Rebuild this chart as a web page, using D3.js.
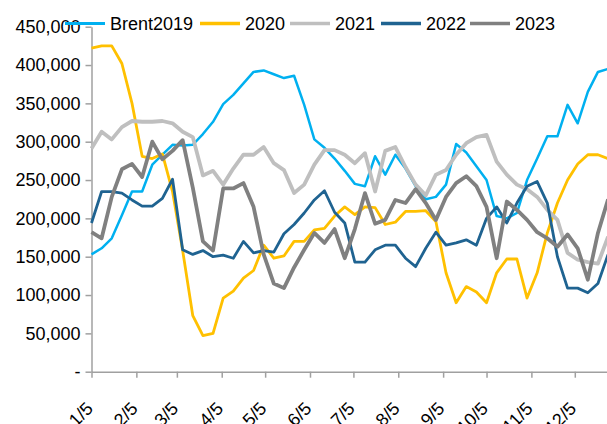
<!DOCTYPE html>
<html>
<head>
<meta charset="utf-8">
<script src="https://cdn.jsdelivr.net/npm/d3@7"></script>
<style>
  html, body { margin: 0; padding: 0; background: #fff; overflow: hidden; }
  svg { display: block; font-family: "Liberation Sans", Arial, sans-serif; }
</style>
</head>
<body>
<svg id="chart" width="607" height="424"></svg>
<script>
// ---- data ----
const weeks = ["2019-01-05","2019-01-12","2019-01-19","2019-01-26","2019-02-02","2019-02-09","2019-02-16","2019-02-23",
  "2019-03-02","2019-03-09","2019-03-16","2019-03-23","2019-03-30","2019-04-06","2019-04-13","2019-04-20","2019-04-27",
  "2019-05-04","2019-05-11","2019-05-18","2019-05-25","2019-06-01","2019-06-08","2019-06-15","2019-06-22","2019-06-29",
  "2019-07-06","2019-07-13","2019-07-20","2019-07-27","2019-08-03","2019-08-10","2019-08-17","2019-08-24","2019-08-31",
  "2019-09-07","2019-09-14","2019-09-21","2019-09-28","2019-10-05","2019-10-12","2019-10-19","2019-10-26",
  "2019-11-02","2019-11-09","2019-11-16","2019-11-23","2019-11-30","2019-12-07","2019-12-14","2019-12-21","2019-12-28"];
const monthTicks = ["2019-01-05","2019-02-05","2019-03-05","2019-04-05","2019-05-05","2019-06-05",
  "2019-07-05","2019-08-05","2019-09-05","2019-10-05","2019-11-05","2019-12-05"];
const tickLabels = ["1/5","2/5","3/5","4/5","5/5","6/5","7/5","8/5","9/5","10/5","11/5","12/5"];
const yTicks = [0,50000,100000,150000,200000,250000,300000,350000,400000,450000];
const seriesNames = ["Brent2019","2020","2021","2022","2023"];

const brent2019 = [153000,161000,174000,204000,235000,235000,270000,283000,296000,295000,296000,310000,326000,349000,361000,376000,391000,
  393000,388000,383000,386000,348000,303000,292000,278000,262000,245000,242000,281000,257000,283000,265000,242000,225000,228000,
  244000,297000,286000,268000,250000,203000,200000,207000,250000,278000,307000,307000,348000,324000,365000,391000,395000];
const y2020 = [422000,425000,425000,402000,350000,281000,278000,284000,235000,158000,73000,47000,50000,96000,105000,122000,132000,
  165000,148000,151000,170000,170000,185000,187000,203000,215000,205000,215000,214000,192000,195000,209000,209000,210000,196000,
  129000,90000,111000,104000,90000,129000,147000,147000,96000,129000,181000,220000,250000,271000,283000,283000,278000];
const y2021 = [291000,313000,303000,319000,327000,326000,326000,327000,324000,313000,306000,256000,262000,244000,265000,283000,283000,
  293000,272000,263000,233000,244000,270000,289000,289000,283000,272000,285000,235000,288000,293000,267000,244000,230000,257000,
  263000,283000,298000,306000,309000,274000,257000,244000,238000,228000,211000,198000,155000,146000,143000,141000,176000];
const y2022 = [194000,235000,235000,233000,224000,216000,216000,226000,251000,159000,153000,158000,150000,152000,148000,170000,155000,
  158000,156000,180000,192000,207000,224000,236000,208000,194000,143000,143000,159000,165000,165000,148000,137000,161000,182000,
  165000,168000,172000,165000,200000,215000,194000,220000,242000,248000,220000,150000,109000,109000,103000,115000,153000];
const y2023 = [182000,174000,228000,264000,271000,254000,300000,277000,288000,302000,240000,170000,158000,239000,239000,246000,215000,
  153000,115000,109000,136000,159000,181000,168000,186000,148000,186000,233000,193000,198000,224000,220000,238000,220000,198000,
  228000,246000,255000,242000,215000,148000,222000,211000,198000,182000,174000,163000,179000,161000,120000,181000,225000];

const seriesValues = [brent2019, y2020, y2021, y2022, y2023];
const colors = ["#00B0F0","#FFC000","#BFBFBF","#1F6391","#808080"];
const widths = [2.5, 2.8, 3.8, 2.8, 3.8];

// ---- chart ----
const parse = d3.timeParse("%Y-%m-%d");
const dates = weeks.map(parse);
const svg = d3.select("#chart");

const x = d3.scaleTime()
  .domain([parse("2019-01-05"), parse("2019-12-31")])
  .range([91.5, 91.5 + 360 * 1.447]);
const y = d3.scaleLinear().domain([0, 450000]).range([371.7, 26.7]);

const axisColor = "#A0A0A0";

// y axis
const yAxis = svg.append("g")
  .attr("transform", "translate(91.5,0)")
  .call(d3.axisLeft(y).tickValues(yTicks).tickSize(6).tickSizeOuter(0).tickPadding(5)
    .tickFormat(d => d === 0 ? "-" : d3.format(",")(d)));
yAxis.select(".domain").attr("stroke", axisColor).attr("stroke-width", 1.5);
yAxis.selectAll(".tick line").attr("stroke", axisColor).attr("stroke-width", 1.5);
yAxis.selectAll(".tick text").attr("fill", "#000").style("font-size", "18px")
  .style("font-family", "'Liberation Sans', Arial, sans-serif");

// x axis
const xAxis = svg.append("g")
  .attr("transform", "translate(0,371.7)")
  .call(d3.axisBottom(x).tickValues(monthTicks.map(parse)).tickSize(6).tickSizeOuter(0)
    .tickFormat((d, i) => tickLabels[i]));
xAxis.select(".domain").attr("stroke", axisColor).attr("stroke-width", 1.5);
xAxis.selectAll(".tick line").attr("stroke", axisColor).attr("stroke-width", 1.5);
xAxis.selectAll(".tick text")
  .attr("fill", "#000")
  .style("font-size", "18px")
  .style("font-family", "'Liberation Sans', Arial, sans-serif")
  .attr("x", 0).attr("y", 0).attr("dy", 0)
  .attr("text-anchor", "end")
  .attr("transform", "translate(2,38) rotate(-45)");

// lines
const line = d3.line().x((d, i) => x(dates[i])).y(d => y(d));
seriesValues.forEach((vals, k) => {
  svg.append("path")
    .datum(vals)
    .attr("fill", "none")
    .attr("stroke", colors[k])
    .attr("stroke-width", widths[k])
    .attr("stroke-linejoin", "round")
    .attr("stroke-linecap", "butt")
    .attr("d", line);
});

// legend
const legendX = [65, 200, 290, 381, 470];
const legend = svg.append("g");
seriesNames.forEach((name, k) => {
  const g = legend.append("g").attr("transform", `translate(${legendX[k]},23.5)`);
  g.append("line").attr("x1", 0).attr("x2", 40).attr("y1", 0).attr("y2", 0)
    .attr("stroke", colors[k]).attr("stroke-width", k === 0 ? 3 : 3.5);
  g.append("text").attr("x", 45).attr("y", 0).attr("dy", "0.36em")
    .style("font-size", "18px").attr("fill", "#000").text(name);
});
</script>
</body>
</html>
